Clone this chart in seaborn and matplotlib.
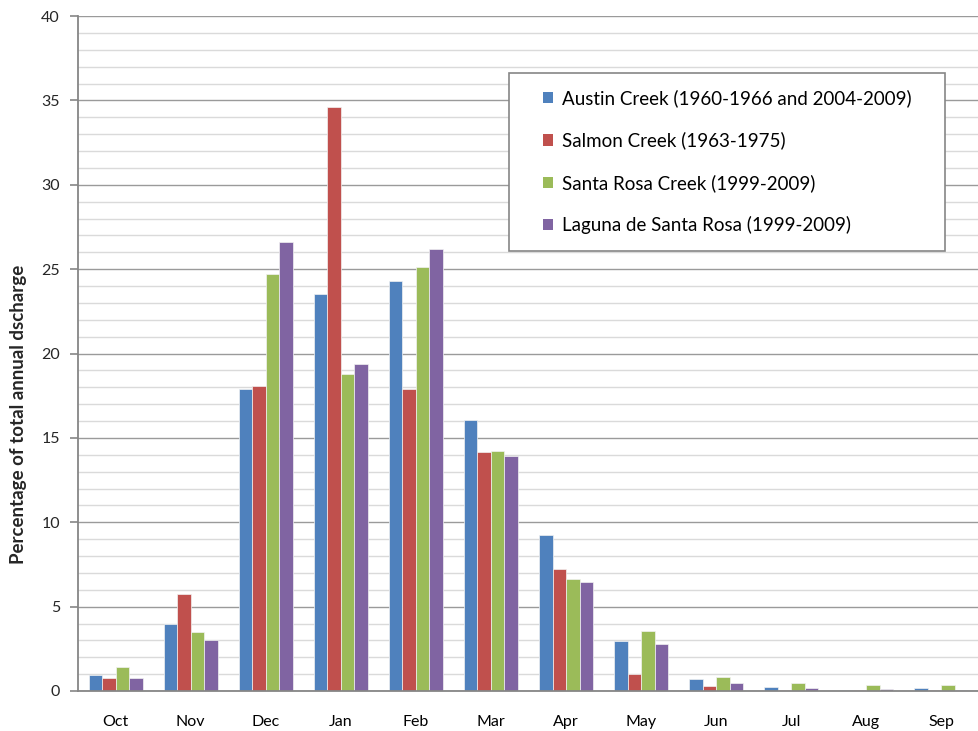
import matplotlib
matplotlib.use("Agg")
import matplotlib.pyplot as plt
from matplotlib.patches import Rectangle
from matplotlib.ticker import MultipleLocator, FixedLocator
import seaborn as sns
import pandas as pd

# Monthly share of total annual discharge (%) per gauged stream
months = ["Oct", "Nov", "Dec", "Jan", "Feb", "Mar", "Apr", "May", "Jun", "Jul", "Aug", "Sep"]
austin_creek = [0.95, 3.97, 17.9, 23.5, 24.3, 16.05, 9.25, 2.95, 0.7, 0.25, 0.05, 0.15]
salmon_creek = [0.75, 5.75, 18.1, 34.6, 17.9, 14.15, 7.25, 1.0, 0.3, 0.05, 0.05, 0.05]
santa_rosa_creek = [1.4, 3.5, 24.7, 18.8, 25.1, 14.2, 6.65, 3.55, 0.85, 0.45, 0.38, 0.33]
laguna = [0.75, 3.0, 26.6, 19.4, 26.2, 13.9, 6.45, 2.8, 0.45, 0.18, 0.12, 0.05]

series_names = [
    "Austin Creek (1960-1966 and 2004-2009)",
    "Salmon Creek (1963-1975)",
    "Santa Rosa Creek (1999-2009)",
    "Laguna de Santa Rosa (1999-2009)",
]
series_values = [austin_creek, salmon_creek, santa_rosa_creek, laguna]
colors = ["#4F81BD", "#C0504D", "#9BBB59", "#8064A2"]

rows = []
for name, vals in zip(series_names, series_values):
    for m, v in zip(months, vals):
        rows.append({"month": m, "series": name, "value": v})
df = pd.DataFrame(rows)

sns.set_theme(style="white")
plt.rcParams["font.family"] = ["Lato", "DejaVu Sans"]

fig = plt.figure(figsize=(9.79, 7.31), dpi=100)
ax = fig.add_axes([78 / 979, 40 / 731, 901 / 979, 675 / 731])

sns.barplot(
    data=df, x="month", y="value", hue="series", order=months,
    hue_order=series_names, palette=colors, width=0.72, saturation=1,
    gap=0, ax=ax, edgecolor="#f2f2f2", linewidth=0.5, legend=False, zorder=3,
)

ax.set_xlim(-0.5, len(months) - 0.5)
ax.set_ylim(0, 40)

# gridlines: light every 1, darker every 5
ax.yaxis.set_major_locator(MultipleLocator(5))
ax.yaxis.set_minor_locator(MultipleLocator(1))
ax.grid(which="minor", axis="y", color="#DADADA", linewidth=1.0, zorder=0)
ax.grid(which="major", axis="y", color="#9A9A9A", linewidth=1.0, zorder=1)
ax.grid(which="major", axis="x", visible=False)
ax.set_axisbelow(True)

for side in ["top", "right"]:
    ax.spines[side].set_visible(False)
for side in ["left", "bottom"]:
    ax.spines[side].set_color("#868686")
    ax.spines[side].set_linewidth(1.3)
    ax.spines[side].set_zorder(4)

# x: labels at category centres, tick marks on category boundaries
ax.xaxis.set_minor_locator(FixedLocator([i - 0.5 for i in range(len(months) + 1)]))
ax.tick_params(axis="x", which="major", length=0, labelsize=11.5, pad=17, colors="black")
ax.tick_params(axis="x", which="minor", length=6, width=1.2, color="#868686", direction="out")
ax.tick_params(axis="y", which="major", length=6, width=1.2, color="#868686",
               direction="out", left=True, labelsize=11.5, pad=7)
ax.tick_params(axis="y", which="minor", length=0)
ax.set_xlabel("")
ax.set_ylabel("Percentage of total annual dscharge", fontsize=13.5, fontweight="bold")
ax.yaxis.set_label_coords(-0.057, 0.41)

# legend box
ax.add_patch(Rectangle((0.478, 0.652), 0.484, 0.264, transform=ax.transAxes,
                       facecolor="white", edgecolor="#868686", linewidth=1.2, zorder=5))
handles = [Rectangle((0, 0), 1, 1, facecolor=c, edgecolor="none") for c in colors]
leg = ax.legend(handles, series_names, loc="center left", bbox_to_anchor=(0.516, 0.784),
                frameon=False, fontsize=13.5, labelspacing=1.3, handlelength=0.55,
                handleheight=0.55, handletextpad=0.45, borderpad=0, borderaxespad=0)
leg.set_zorder(6)
for t in leg.get_texts():
    t.set_color("black")

fig.savefig("out.png", dpi=100)
